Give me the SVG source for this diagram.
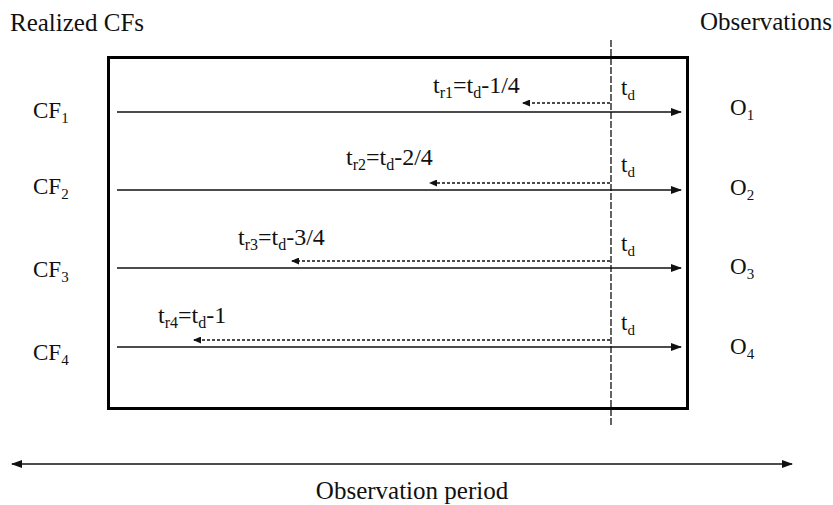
<svg xmlns="http://www.w3.org/2000/svg" width="833" height="505" viewBox="0 0 833 505">
<style>
text{font-family:"Liberation Serif","Times New Roman",serif;fill:#111;font-size:23px}
.title{font-size:25px}
.tr{font-size:24px}
.sub{font-size:15px}
.tr .sub{font-size:16px}
.solid{stroke:#111;stroke-width:1.5;fill:none}
.dash{stroke:#111;stroke-width:1.3;stroke-dasharray:3,2;fill:none}
.vdash{stroke:#111;stroke-width:1.3;stroke-dasharray:7,2;fill:none}
</style>
<defs>
<marker id="ah" markerWidth="11" markerHeight="8" refX="10" refY="4" orient="auto-start-reverse" markerUnits="userSpaceOnUse"><path d="M0,0 L11,4 L0,8 z" fill="#111"/></marker>
<marker id="ahs" markerWidth="8" markerHeight="7" refX="7" refY="3.5" orient="auto" markerUnits="userSpaceOnUse"><path d="M0,0 L8,3.5 L0,7 z" fill="#111"/></marker>
</defs>
<g id="frame"><rect x="108.5" y="57.5" width="579" height="351" fill="none" stroke="#000" stroke-width="3"/></g>
<g id="titles">
<text class="title" x="10" y="31">Realized CFs</text>
<text class="title" x="700" y="30">Observations</text>
<text class="title" x="412" y="499" text-anchor="middle">Observation period</text>
</g>
<g id="connectors">
<line class="vdash" x1="611" y1="40" x2="611" y2="426"/>
<line class="solid" x1="117" y1="112" x2="681" y2="112" marker-end="url(#ah)"/>
<line class="solid" x1="117" y1="190" x2="681" y2="190" marker-end="url(#ah)"/>
<line class="solid" x1="117" y1="268" x2="681" y2="268" marker-end="url(#ah)"/>
<line class="solid" x1="117" y1="347" x2="681" y2="347" marker-end="url(#ah)"/>
<line class="dash" x1="610" y1="103" x2="523" y2="103" marker-end="url(#ahs)"/>
<line class="dash" x1="610" y1="183" x2="430" y2="183" marker-end="url(#ahs)"/>
<line class="dash" x1="610" y1="261" x2="292" y2="261" marker-end="url(#ahs)"/>
<line class="dash" x1="610" y1="340" x2="194" y2="340" marker-end="url(#ahs)"/>
<line class="solid" x1="12" y1="464" x2="792" y2="464" marker-start="url(#ah)" marker-end="url(#ah)"/>
</g>
<g id="cf1"><text x="33" y="118">CF<tspan class="sub" dy="5">1</tspan></text></g>
<g id="cf2"><text x="33" y="194">CF<tspan class="sub" dy="5">2</tspan></text></g>
<g id="cf3"><text x="33" y="277">CF<tspan class="sub" dy="5">3</tspan></text></g>
<g id="cf4"><text x="33" y="360">CF<tspan class="sub" dy="5">4</tspan></text></g>
<g id="o1"><text x="730" y="115">O<tspan class="sub" dy="5">1</tspan></text></g>
<g id="o2"><text x="730" y="195">O<tspan class="sub" dy="5">2</tspan></text></g>
<g id="o3"><text x="730" y="274">O<tspan class="sub" dy="5">3</tspan></text></g>
<g id="o4"><text x="730" y="354">O<tspan class="sub" dy="5">4</tspan></text></g>
<g id="td1"><text x="621" y="95">t<tspan class="sub" dy="5">d</tspan></text></g>
<g id="td2"><text x="621" y="172">t<tspan class="sub" dy="5">d</tspan></text></g>
<g id="td3"><text x="621" y="251">t<tspan class="sub" dy="5">d</tspan></text></g>
<g id="td4"><text x="621" y="330">t<tspan class="sub" dy="5">d</tspan></text></g>
<g id="tr1"><text class="tr" x="433" y="93">t<tspan class="sub" dy="5">r1</tspan><tspan dy="-5">=t</tspan><tspan class="sub" dy="5">d</tspan><tspan dy="-5">-1/4</tspan></text></g>
<g id="tr2"><text class="tr" x="346" y="165">t<tspan class="sub" dy="5">r2</tspan><tspan dy="-5">=t</tspan><tspan class="sub" dy="5">d</tspan><tspan dy="-5">-2/4</tspan></text></g>
<g id="tr3"><text class="tr" x="238" y="245">t<tspan class="sub" dy="5">r3</tspan><tspan dy="-5">=t</tspan><tspan class="sub" dy="5">d</tspan><tspan dy="-5">-3/4</tspan></text></g>
<g id="tr4"><text class="tr" x="158" y="323">t<tspan class="sub" dy="5">r4</tspan><tspan dy="-5">=t</tspan><tspan class="sub" dy="5">d</tspan><tspan dy="-5">-1</tspan></text></g>
</svg>
